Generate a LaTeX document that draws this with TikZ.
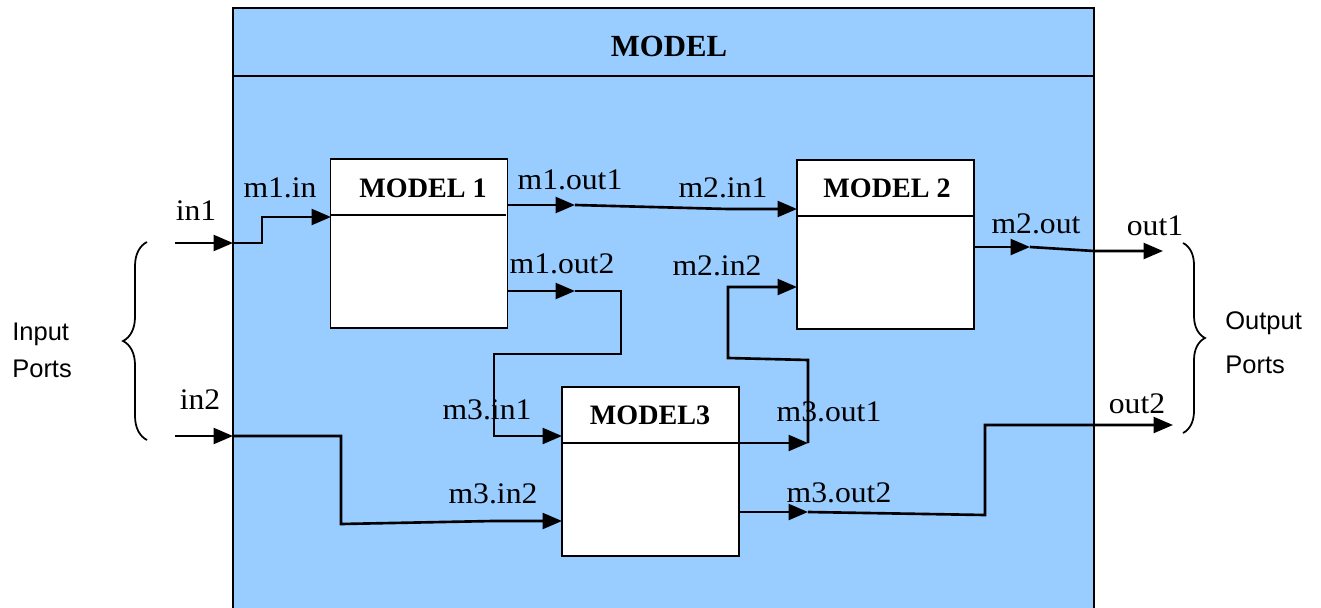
\documentclass[tikz,border=0pt]{standalone}
\usepackage{fontspec}
\setmainfont{Liberation Serif}
\setsansfont{Liberation Sans}
\newfontfamily\portfont{Liberation Serif}[FakeStretch=1.06]
\usetikzlibrary{arrows.meta,decorations.pathreplacing}
\definecolor{modelblue}{HTML}{99CCFF}

\begin{document}
\begin{tikzpicture}[x=0.02cm, y=-0.02cm, every node/.style={inner sep=0pt},
    mbox/.style={draw, fill=white, line width=1pt, minimum width=3.54cm, minimum height=3.38cm},
    mtitle/.style={font=\bfseries\fontsize{16}{18}\selectfont},
    plbl/.style={font=\portfont\fontsize{17}{19}\selectfont},
    glbl/.style={font=\sffamily\fontsize{14.5}{17}\selectfont, anchor=base west},
    wire/.style={line width=1.5pt},
    port/.style={wire, -{Triangle[length=11pt, width=9pt]}},
    pbrace/.style={decorate, decoration={brace, amplitude=#1}, line width=1pt}]
    \useasboundingbox (0,0) rectangle (1321,608);

    % Modelo exterior
    \fill[modelblue] (233,8) rectangle (1094,608);
    \draw[line width=1pt] (233,608) -- (233,8) -- (1094,8) -- (1094,608);
    \draw[line width=1pt] (233,76) -- (1094,76);
    \node[font=\bfseries\fontsize{17.5}{20}\selectfont] (mtop) at (669,46) {MODEL};

    % Submodelos
    \node[mbox] (m1) at (419,243.5) {};
    \node[mbox] (m2) at (885.5,244.5) {};
    \node[mbox] (m3) at (650.5,471.5) {};
    \draw[line width=1pt] (m1.north west) ++(0,57) -- ++(176,0);
    \draw[line width=1.5pt] (m2.north west) ++(0,57) -- ++(177,0);
    \draw[line width=1pt] (m3.north west) ++(0,57) -- ++(177,0);
    \node[mtitle] (t1) at (423,188) {MODEL 1};
    \node[mtitle] (t2) at (887,188) {MODEL 2};
    \node[mtitle] (t3) at (650,415) {MODEL3};

    % Portos
    \coordinate (in1a) at (175,243);  \coordinate (in1b) at (233,243);
    \coordinate (in2a) at (175,436);  \coordinate (in2b) at (233,436);
    \coordinate (m1in) at (331,217);
    \coordinate (m1o1) at (507,205);  \coordinate (m1o1a) at (575,205);
    \coordinate (m1o2) at (507,291);  \coordinate (m1o2a) at (575,291);
    \coordinate (m2i1) at (797,209);  \coordinate (m2i2) at (797,287);
    \coordinate (m2o) at (974,247);   \coordinate (m2oa) at (1030,247);
    \coordinate (m3i1) at (562,436);  \coordinate (m3i2) at (562,521);
    \coordinate (m3o1) at (739,443);  \coordinate (m3o1a) at (808,443);
    \coordinate (m3o2) at (739,512);  \coordinate (m3o2a) at (808,512);
    \coordinate (out1) at (1163,251); \coordinate (out2) at (1173,425);

    % Ligações
    \draw[port] (in1a) -- (in1b);
    \draw[port] (in1b) -- (262,243) |- (m1in);
    \draw[port] (m1o1) -- (m1o1a);
    \draw[port] (m1o1a) -- (728,209) -- (m2i1);
    \draw[port] (m1o2) -- (m1o2a);
    \draw[port] (m1o2a) -- (621,291) -- (621,354) -- (494,354) |- (m3i1);
    \draw[port] (m3o1) -- (m3o1a);
    \draw[port] (m3o1a) -- (808,360) -- (728,358) |- (m2i2);
    \draw[port] (m3o2) -- (m3o2a);
    \draw[port] (m3o2a) -- (985,515) -- (985,425) -- (out2);
    \draw[port] (m2o) -- (m2oa);
    \draw[port] (m2oa) -- (1094,251) -- (out1);
    \draw[port] (in2a) -- (in2b);
    \draw[port] (in2b) -- (341,436) -- (341,524) -- (493,521) -- (m3i2);

    % Rótulos dos portos
    \node[plbl] (l-in1) at (196,211) {in1};
    \node[plbl] (l-in2) at (200,400) {in2};
    \node[plbl] (l-m1in) at (280,188) {m1.in};
    \node[plbl] (l-m1o1) at (570,180) {m1.out1};
    \node[plbl] (l-m1o2) at (562,264) {m1.out2};
    \node[plbl] (l-m2i1) at (723,188) {m2.in1};
    \node[plbl] (l-m2i2) at (717,266) {m2.in2};
    \node[plbl] (l-m2o) at (1036,224) {m2.out};
    \node[plbl] (l-m3i1) at (487,410) {m3.in1};
    \node[plbl] (l-m3i2) at (493,494) {m3.in2};
    \node[plbl] (l-m3o1) at (829,412) {m3.out1};
    \node[plbl] (l-m3o2) at (839,493) {m3.out2};
    \node[plbl] (l-out1) at (1155,226) {out1};
    \node[plbl] (l-out2) at (1137,404) {out2};

    % Chavetas
    \draw[pbrace=0.48cm] (147,440) -- (147,242);
    \draw[pbrace=0.44cm] (1183,243) -- (1183,433);
    \node[glbl] (inp) at (12,340) {Input};
    \node[glbl] (inp2) at (12,377) {Ports};
    \node[glbl] (outp) at (1225,329) {Output};
    \node[glbl] (outp2) at (1225,373) {Ports};
\end{tikzpicture}
\end{document}
